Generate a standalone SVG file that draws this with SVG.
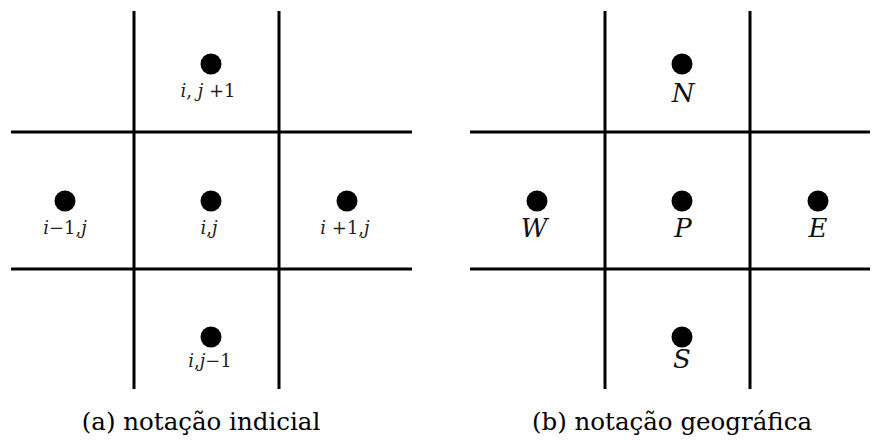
<svg xmlns="http://www.w3.org/2000/svg" width="872" height="441" viewBox="0 0 872 441">
<style>
.g{stroke:#000;stroke-width:3;fill:none}
.d{fill:#000}
text{font-family:'DejaVu Serif','Liberation Serif',serif}
.s{font-size:18px;fill:#222;text-anchor:middle}
.it{font-style:italic}
.L{font-size:26px;font-style:italic;fill:#111;text-anchor:middle}
.c{font-size:24.5px;fill:#000;text-anchor:middle}
</style>
<rect width="872" height="441" fill="#fff"/>
<g id="connectors">
<line class="g" x1="134" y1="11" x2="134" y2="389"/>
<line class="g" x1="279" y1="11" x2="279" y2="389"/>
<line class="g" x1="11" y1="132" x2="412" y2="132"/>
<line class="g" x1="11" y1="269" x2="412" y2="269"/>
<line class="g" x1="605" y1="11" x2="605" y2="389"/>
<line class="g" x1="750" y1="11" x2="750" y2="389"/>
<line class="g" x1="470" y1="132" x2="870" y2="132"/>
<line class="g" x1="470" y1="269" x2="870" y2="269"/>
</g>
<g id="a_top"><circle class="d" cx="211" cy="64" r="10.5"/><text class="s" x="208" y="97"><tspan class="it">i</tspan>, <tspan class="it">j</tspan> +1</text></g>
<g id="a_left"><circle class="d" cx="65" cy="201" r="10.5"/><text class="s" x="65" y="234"><tspan class="it">i</tspan>−1,<tspan class="it">j</tspan></text></g>
<g id="a_center"><circle class="d" cx="211" cy="201" r="10.5"/><text class="s" x="209" y="234"><tspan class="it">i</tspan>,<tspan class="it">j</tspan></text></g>
<g id="a_right"><circle class="d" cx="347" cy="201" r="10.5"/><text class="s" x="345" y="234"><tspan class="it">i</tspan> +1,<tspan class="it">j</tspan></text></g>
<g id="a_bottom"><circle class="d" cx="211" cy="337" r="10.5"/><text class="s" x="210" y="367"><tspan class="it">i</tspan>,<tspan class="it">j</tspan>−1</text></g>
<g id="b_N"><circle class="d" cx="682" cy="64" r="10.5"/><text class="L" x="683" y="102">N</text></g>
<g id="b_W"><circle class="d" cx="537" cy="201" r="10.5"/><text class="L" x="534" y="237">W</text></g>
<g id="b_P"><circle class="d" cx="682" cy="201" r="10.5"/><text class="L" x="683" y="237">P</text></g>
<g id="b_E"><circle class="d" cx="818" cy="201" r="10.5"/><text class="L" x="818" y="237">E</text></g>
<g id="b_S"><circle class="d" cx="682" cy="337" r="10.5"/><text class="L" x="682" y="368">S</text></g>
<g id="captions">
<text class="c" x="201" y="430">(a) notação indicial</text>
<text class="c" x="672" y="430">(b) notação geográfica</text>
</g>
</svg>
